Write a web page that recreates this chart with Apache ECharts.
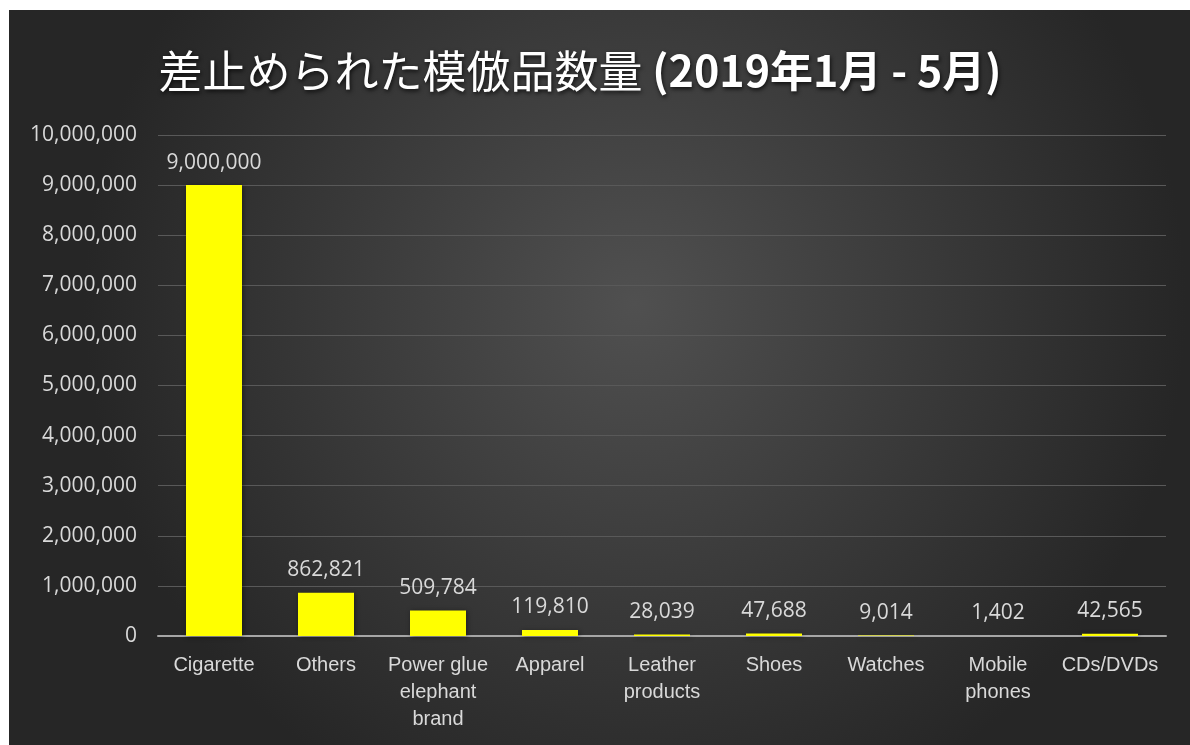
<!DOCTYPE html>
<html>
<head>
<meta charset="utf-8">
<script src="https://cdn.jsdelivr.net/npm/echarts@6/dist/echarts.min.js"></script>
<style>
html,body{margin:0;padding:0;background:#ffffff;width:1190px;height:745px;overflow:hidden;}
#chart{position:absolute;left:9px;top:10px;width:1181px;height:735px;}
</style>
</head>
<body>
<div id="chart"></div>
<script>
const titleMain = '差止められた模倣品数量 ';
const titleBold = '(2019年1月 - 5月)';
const categories = ['Cigarette', 'Others', 'Power glue\nelephant\nbrand', 'Apparel', 'Leather\nproducts', 'Shoes', 'Watches', 'Mobile\nphones', 'CDs/DVDs'];
const values = [9000000, 862821, 509784, 119810, 28039, 47688, 9014, 1402, 42565];
const yMin = 0, yMax = 10000000, yInterval = 1000000;

const fmt = v => Number(v).toLocaleString('en-US');
const chart = echarts.init(document.getElementById('chart'));
const shadow = {textShadowColor: 'rgba(0,0,0,0.75)', textShadowBlur: 4, textShadowOffsetX: 1, textShadowOffsetY: 2};
chart.setOption({
  animation: false,
  backgroundColor: {
    type: 'radial', x: 0.53, y: 0.4, r: 0.75,
    colorStops: [{offset: 0, color: '#505050'}, {offset: 1, color: '#262626'}]
  },
  title: {
    text: '{a|' + titleMain + '}{b|' + titleBold + '}',
    left: 566, top: 34, textAlign: 'center',
    textStyle: {
      rich: {
        a: Object.assign({fontFamily: '"Noto Sans CJK JP", sans-serif', fontSize: 44, fontWeight: 'normal', color: '#ffffff'}, shadow),
        b: Object.assign({fontFamily: '"Noto Sans CJK JP", sans-serif', fontSize: 43, fontWeight: 'bold', color: '#ffffff'}, shadow)
      }
    }
  },
  grid: {left: 149, right: 24, top: 125, bottom: 109, containLabel: false},
  xAxis: {
    type: 'category', data: categories,
    axisLine: {lineStyle: {color: '#a6a6a6', width: 2}},
    axisTick: {show: false},
    axisLabel: {color: '#d9d9d9', fontFamily: '"Liberation Sans", Arial, sans-serif', fontSize: 20, lineHeight: 27, margin: 16, interval: 0}
  },
  yAxis: {
    type: 'value', min: yMin, max: yMax, interval: yInterval,
    axisLine: {show: false}, axisTick: {show: false},
    axisLabel: {color: '#d9d9d9', fontFamily: '"Open Sans", sans-serif', fontSize: 21, margin: 21, formatter: fmt},
    splitLine: {lineStyle: {color: '#595959', width: 1}}
  },
  series: [{
    type: 'bar', data: values, barWidth: '50%',
    itemStyle: {color: '#ffff00', shadowColor: 'rgba(0,0,0,0.45)', shadowBlur: 5, shadowOffsetX: 1, shadowOffsetY: 1},
    label: {show: true, position: 'top', distance: 12, color: '#d9d9d9', fontFamily: '"Open Sans", sans-serif', fontSize: 21, formatter: p => fmt(p.value)}
  }]
});
</script>
</body>
</html>
